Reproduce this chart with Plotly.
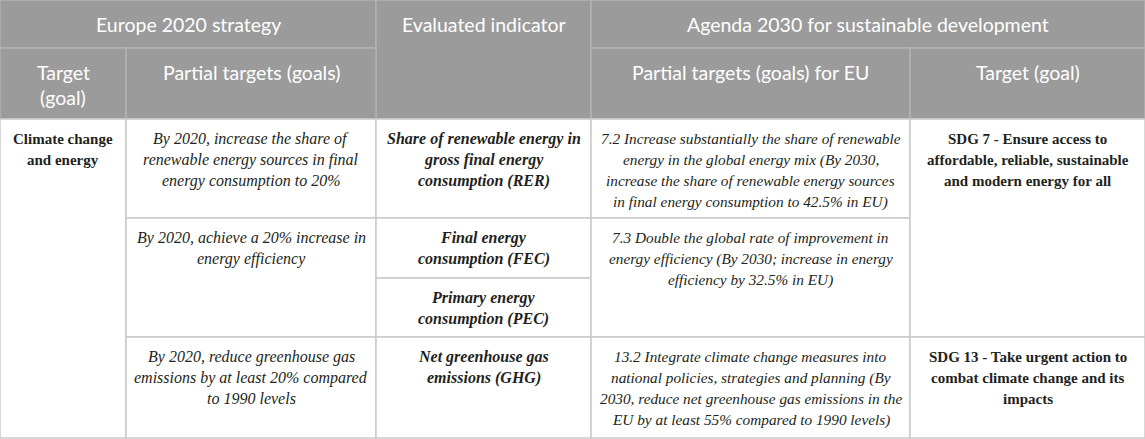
import plotly.graph_objects as go

# header texts
header_top = ["Europe 2020 strategy", "Evaluated indicator",
              "Agenda 2030 for sustainable development"]
header_sub = ["Target<br>(goal)", "Partial targets (goals)",
              "Partial targets (goals) for EU", "Target (goal)"]

# body texts, one list per column
target_goal = ["Climate change<br>and energy"]
partial_targets = [
    "By 2020, increase the share of<br>renewable energy sources in final<br>energy consumption to 20%",
    "By 2020, achieve a 20% increase in<br>energy efficiency",
    "By 2020, reduce greenhouse gas<br>emissions by at least 20% compared<br>to 1990 levels",
]
indicators = [
    "Share of renewable energy in<br>gross final energy<br>consumption (RER)",
    "Final energy<br>consumption (FEC)",
    "Primary energy<br>consumption (PEC)",
    "Net greenhouse gas<br>emissions (GHG)",
]
eu_targets = [
    "7.2 Increase substantially the share of renewable<br>energy in the global energy mix (By 2030,<br>"
    "increase the share of renewable energy sources<br>in final energy consumption to 42.5% in EU)",
    "7.3 Double the global rate of improvement in<br>energy efficiency (By 2030; increase in energy<br>"
    "efficiency by 32.5% in EU)",
    "13.2 Integrate climate change measures into<br>national policies, strategies and planning (By<br>"
    "2030, reduce net greenhouse gas emissions in the<br>EU by at least 55% compared to 1990 levels)",
]
sdg_goals = [
    "SDG 7 - Ensure access to<br>affordable, reliable, sustainable<br>and modern energy for all",
    "SDG 13 - Take urgent action to<br>combat climate change and its<br>impacts",
]

# grid (pixels)
col_edges = [0, 126, 376, 591, 910, 1145]
row_edges = [0, 48, 119, 218, 278, 337, 438]

HEAD_BG = "#9b9b9b"
HEAD_LINE = "#b3b3b3"
BODY_LINE = "#cacaca"
SERIF = "Liberation Serif, serif"
INK = "#231f20"
FONTS = {
    "head": dict(family="Lato, Open Sans, sans-serif", size=19.5, color="white"),
    "i": dict(family=SERIF, size=16, color=INK),
    "ic": dict(family=SERIF, size=15.3, color=INK),
    "b": dict(family=SERIF, size=15, color=INK),
    "bi": dict(family=SERIF, size=16, color=INK),
}
WRAP = {"head": ("", ""), "i": ("<i>", "</i>"), "ic": ("<i>", "</i>"),
        "b": ("<b>", "</b>"), "bi": ("<b><i>", "</i></b>")}

# (text, col0, col1, row0, row1, style)
cells = [
    (header_top[0], 0, 2, 0, 1, "head"),
    (header_top[1], 2, 3, 0, 2, "head"),
    (header_top[2], 3, 5, 0, 1, "head"),
    (header_sub[0], 0, 1, 1, 2, "head"),
    (header_sub[1], 1, 2, 1, 2, "head"),
    (header_sub[2], 3, 4, 1, 2, "head"),
    (header_sub[3], 4, 5, 1, 2, "head"),
    (target_goal[0], 0, 1, 2, 6, "b"),
    (partial_targets[0], 1, 2, 2, 3, "i"),
    (partial_targets[1], 1, 2, 3, 5, "i"),
    (partial_targets[2], 1, 2, 5, 6, "i"),
    (indicators[0], 2, 3, 2, 3, "bi"),
    (indicators[1], 2, 3, 3, 4, "bi"),
    (indicators[2], 2, 3, 4, 5, "bi"),
    (indicators[3], 2, 3, 5, 6, "bi"),
    (eu_targets[0], 3, 4, 2, 3, "ic"),
    (eu_targets[1], 3, 4, 3, 5, "ic"),
    (eu_targets[2], 3, 4, 5, 6, "ic"),
    (sdg_goals[0], 4, 5, 2, 5, "b"),
    (sdg_goals[1], 4, 5, 5, 6, "b"),
]

fig = go.Figure()

for text, c0, c1, r0, r1, style in cells:
    x0, x1 = col_edges[c0], col_edges[c1]
    y0, y1 = row_edges[r0], row_edges[r1]
    head = style == "head"
    fig.add_shape(type="rect", x0=x0, x1=x1, y0=y0, y1=y1, layer="below",
                  fillcolor=HEAD_BG if head else "white",
                  line=dict(color=HEAD_LINE if head else BODY_LINE, width=1.5))
    first, lh = (24, 25) if head else (19.5, 21)
    pre, post = WRAP[style]
    for i, ln in enumerate(text.split("<br>")):
        fig.add_annotation(x=(x0 + x1) / 2, y=y0 + first + i * lh,
                           text=pre + ln + post, showarrow=False,
                           xanchor="center", yanchor="middle", font=FONTS[style])

fig.update_xaxes(range=[0, 1145], visible=False, fixedrange=True)
fig.update_yaxes(range=[439, 0], visible=False, fixedrange=True)
fig.update_layout(width=1145, height=439, margin=dict(l=0, r=0, t=0, b=0),
                  plot_bgcolor="white", paper_bgcolor="white", showlegend=False)

# drop the default page margin so the table sits at the window edge
fig.write_html("out.html", config={"displayModeBar": False},
               post_script="document.body.style.margin='0';")
